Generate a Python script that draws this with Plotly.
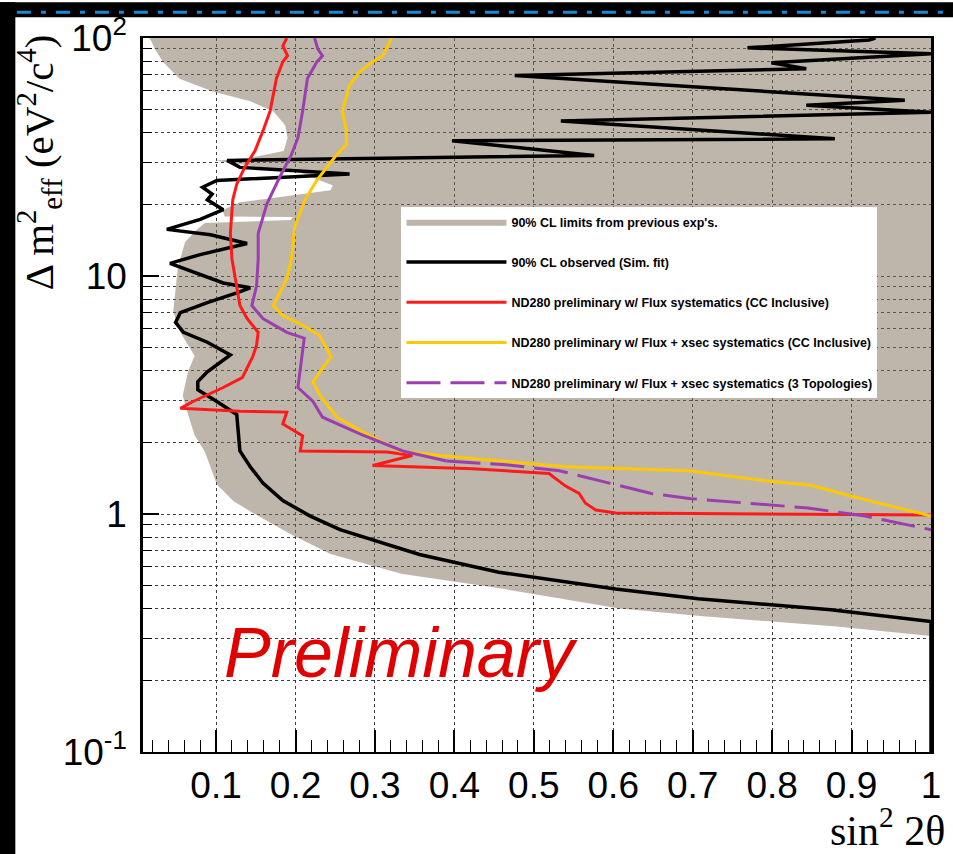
import plotly.graph_objects as go

# 90% CL region excluded by previous experiments (closed polygon)
prev_x = [0.016, 0.019, 0.023, 0.033, 0.054, 0.096, 0.143, 0.172, 0.187, 0.190, 0.185, 0.143,
          0.099, 0.206, 0.247, 0.244, 0.130, 0.108, 0.111, 0.197, 0.194, 0.086, 0.076, 0.061,
          0.052, 0.048, 0.046, 0.054, 0.073, 0.065, 0.058, 0.065, 0.073, 0.086, 0.101, 0.122,
          0.156, 0.194, 0.244, 0.333, 0.459, 0.608, 0.713, 0.881, 1.0, 1.0, 0.016]
prev_y = [100, 96.2, 90.0, 79.4, 67.5, 59.6, 54.2, 49.2, 43.0, 38.0, 33.5, 31.4,
          30.5, 27.2, 24.0, 22.9, 20.4, 18.9, 17.8, 17.7, 17.2, 16.7, 15.7, 13.9,
          10.9, 8.2, 7.1, 5.87, 4.61, 4.0, 3.15, 2.60, 2.14, 1.82, 1.33, 1.13,
          0.968, 0.823, 0.679, 0.561, 0.486, 0.401, 0.372, 0.337, 0.307, 100, 100]

# 90% CL observed contour (simultaneous fit)
obs_x = [1.0, 1.0, 0.874, 0.707, 0.603, 0.456, 0.356, 0.256, 0.218, 0.184, 0.159, 0.143,
         0.130, 0.128, 0.126, 0.101, 0.077, 0.077, 0.089, 0.118, 0.089, 0.059, 0.049, 0.055,
         0.089, 0.126, 0.143, 0.109, 0.076, 0.042, 0.080, 0.139, 0.093, 0.038, 0.080, 0.109,
         0.089, 0.095, 0.083, 0.101, 0.268, 0.130, 0.114, 0.576, 0.397, 0.879, 0.534, 1.0,
         0.843, 0.967, 0.476, 0.843, 0.799, 1.0, 0.769, 0.922, 0.93]
obs_y = [0.1, 0.353, 0.396, 0.440, 0.484, 0.569, 0.676, 0.859, 0.982, 1.14, 1.35, 1.58,
         1.84, 2.17, 2.62, 2.97, 3.33, 3.60, 3.96, 4.66, 5.27, 5.80, 6.38, 7.02,
         7.73, 8.50, 8.92, 9.35, 10.3, 11.3, 12.3, 13.7, 14.9, 15.7, 17.3, 19.0,
         20.9, 22.1, 23.6, 25.2, 26.8, 28.6, 30.6, 32.1, 37.0, 37.7, 44.8, 48.8,
         52.2, 54.8, 69.5, 74.3, 78.7, 85.8, 90.9, 98.1, 100]

# ND280 preliminary, flux systematics (CC inclusive)
flux_x = [0.189, 0.184, 0.190, 0.184, 0.176, 0.168, 0.159, 0.149, 0.136, 0.126, 0.121, 0.118,
          0.120, 0.126, 0.130, 0.139, 0.153, 0.151, 0.146, 0.133, 0.109, 0.071, 0.055, 0.130,
          0.189, 0.184, 0.209, 0.206, 0.315, 0.347, 0.297, 0.423, 0.519, 0.540, 0.557, 0.565,
          0.578, 0.603, 1.0]
flux_y = [100, 92.6, 84.2, 79.5, 67.6, 49.3, 40.7, 33.6, 28.6, 24.3, 20.9, 15.1,
          11.8, 9.10, 7.51, 6.63, 5.80, 5.12, 4.57, 3.74, 3.40, 2.97, 2.78, 2.70,
          2.68, 2.39, 2.13, 1.84, 1.82, 1.76, 1.60, 1.55, 1.48, 1.31, 1.22, 1.11,
          1.04, 1.01, 0.99]

# ND280 preliminary, flux + xsec systematics (CC inclusive)
xsec_x = [0.321, 0.310, 0.297, 0.281, 0.268, 0.259, 0.264, 0.264, 0.252, 0.239, 0.227, 0.212,
          0.199, 0.195, 0.189, 0.180, 0.172, 0.184, 0.209, 0.230, 0.245, 0.237, 0.222, 0.230,
          0.252, 0.289, 0.331, 0.381, 0.456, 0.540, 0.695, 0.791, 0.849, 0.899, 1.0]
xsec_y = [100, 84.2, 79.5, 72.3, 63.2, 49.3, 40.7, 35.6, 32.4, 28.6, 25.3, 20.9,
          16.1, 11.8, 9.72, 8.50, 7.51, 6.82, 6.21, 5.64, 4.57, 4.23, 3.60, 3.18,
          2.55, 2.17, 1.84, 1.76, 1.67, 1.58, 1.52, 1.38, 1.32, 1.19, 0.98]

# ND280 preliminary, flux + xsec systematics (3 topologies)
topo_x = [0.224, 0.228, 0.234, 0.227, 0.215, 0.209, 0.203, 0.195, 0.180, 0.164, 0.153, 0.153,
          0.151, 0.145, 0.159, 0.189, 0.211, 0.203, 0.222, 0.234, 0.281, 0.335, 0.390, 0.465,
          0.532, 0.594, 0.648, 0.698, 0.770, 0.845, 0.917, 1.0]
topo_y = [100, 90.0, 84.2, 79.5, 67.6, 49.3, 38.1, 32.4, 26.0, 20.1, 15.1, 11.8,
          9.10, 7.51, 6.63, 5.80, 5.48, 3.40, 2.97, 2.55, 2.17, 1.84, 1.67, 1.61,
          1.52, 1.35, 1.22, 1.16, 1.11, 1.06, 0.98, 0.859]
# densely sampled upper part renders solid, the sparse tail shows the dashes
topo_split = 22

legend_names = [
    "90% CL limits from previous exp's.",
    "90% CL observed (Sim. fit)",
    "ND280 preliminary w/ Flux systematics (CC Inclusive)",
    "ND280 preliminary w/ Flux + xsec systematics (CC Inclusive)",
    "ND280 preliminary w/ Flux + xsec systematics (3 Topologies)",
]

y_major = [0.1, 1, 10, 100]
y_major_text = ["10<sup>-1</sup>", "1", "10", "10<sup>2</sup>"]
y_minor = [m * d for d in (0.1, 1, 10) for m in range(2, 10)]

purple = "#9b3fb0"

fig = go.Figure()
fig.add_trace(go.Scatter(x=prev_x, y=prev_y, fill="toself", mode="lines",
                         fillcolor="rgba(127,109,87,0.5)", line=dict(width=0),
                         name=legend_names[0], legendgroup="g0"))
fig.add_trace(go.Scatter(x=obs_x, y=obs_y, mode="lines",
                         line=dict(color="black", width=3.5), name=legend_names[1],
                         legendgroup="g1"))
fig.add_trace(go.Scatter(x=flux_x, y=flux_y, mode="lines",
                         line=dict(color="#ff1a1a", width=3), name=legend_names[2],
                         legendgroup="g2"))
fig.add_trace(go.Scatter(x=xsec_x, y=xsec_y, mode="lines",
                         line=dict(color="#ffc800", width=3), name=legend_names[3],
                         legendgroup="g3"))
fig.add_trace(go.Scatter(x=topo_x[:topo_split + 1], y=topo_y[:topo_split + 1], mode="lines",
                         line=dict(color=purple, width=3), showlegend=False,
                         legendgroup="g4"))
fig.add_trace(go.Scatter(x=topo_x[topo_split:], y=topo_y[topo_split:], mode="lines",
                         line=dict(color=purple, width=3, dash="34px,10px"),
                         name=legend_names[4], legendgroup="g4"))

grid = "rgba(40,40,40,0.9)"
fig.update_xaxes(range=[0.008, 1.0], tickmode="linear", tick0=0, dtick=0.1,
                 tickformat=".1~f", ticks="inside", ticklen=22, tickwidth=1.5,
                 tickcolor="black", showline=True, linecolor="black", linewidth=2,
                 mirror=True, showgrid=True, gridcolor=grid, griddash="dot", gridwidth=1,
                 zeroline=False,
                 tickfont=dict(family="Liberation Sans, Arial", size=37, color="black"),
                 minor=dict(dtick=0.02, tick0=0, ticks="inside", ticklen=12,
                            tickwidth=1.2, tickcolor="black", showgrid=False))
fig.update_yaxes(type="log", range=[-1, 2], tickmode="array", tickvals=y_major,
                 ticktext=y_major_text, ticks="inside", ticklen=16, tickwidth=1.5,
                 tickcolor="black", showline=True, linecolor="black", linewidth=2.5,
                 mirror=True, showgrid=True, gridcolor=grid, griddash="dot", gridwidth=1,
                 zeroline=False, ticklabelstandoff=6,
                 tickfont=dict(family="Liberation Sans, Arial", size=37, color="black"),
                 minor=dict(tickmode="array", tickvals=y_minor, ticks="inside", ticklen=9,
                            tickwidth=1.2, tickcolor="black", showgrid=True,
                            gridcolor=grid, griddash="dot", gridwidth=1))

fig.update_layout(
    width=953, height=854,
    margin=dict(l=143, r=20, t=29, b=102),
    paper_bgcolor="white", plot_bgcolor="white",
    showlegend=True,
    legend=dict(x=0.328, y=0.763, xanchor="left", yanchor="top",
                bgcolor="white", borderwidth=0, itemwidth=100,
                tracegroupgap=21,
                font=dict(family="Liberation Sans, Arial", size=12.5, color="black",
                          weight="bold")),
    shapes=[
        dict(type="rect", xref="paper", yref="paper", x0=-0.19, x1=-0.162,
             y0=-0.15, y1=1.05, fillcolor="black", line=dict(width=0), layer="above"),
        dict(type="rect", xref="paper", yref="paper", x0=-0.19, x1=1.03,
             y0=1.029, y1=1.05, fillcolor="black", line=dict(width=0), layer="above"),
        dict(type="line", xref="paper", yref="paper", x0=-0.16, x1=1.03,
             y0=1.036, y1=1.036, line=dict(color="#1a8ad4", width=3, dash="14px,10px,5px,10px"),
             layer="above"),
    ],
    annotations=[
        dict(text="Preliminary", xref="paper", yref="paper", x=0.327, y=0.139,
             xanchor="center", yanchor="middle", showarrow=False,
             font=dict(family="Liberation Sans, Arial", size=70, color="#e00000",
                       style="italic")),
        dict(text="Δ m<sup>2</sup><sub>eff</sub> (eV<sup>2</sup>/c<sup>4</sup>)",
             xref="paper", yref="paper", x=-0.132, y=0.826, textangle=-90,
             xanchor="center", yanchor="middle", showarrow=False,
             font=dict(family="Liberation Serif, Times New Roman", size=41, color="black")),
        dict(text="sin<sup>2</sup> 2θ", xref="paper", yref="paper", x=1.02, y=-0.106,
             xanchor="right", yanchor="middle", showarrow=False,
             font=dict(family="Liberation Serif, Times New Roman", size=42, color="black")),
    ],
)

fig.write_html("out.html")
